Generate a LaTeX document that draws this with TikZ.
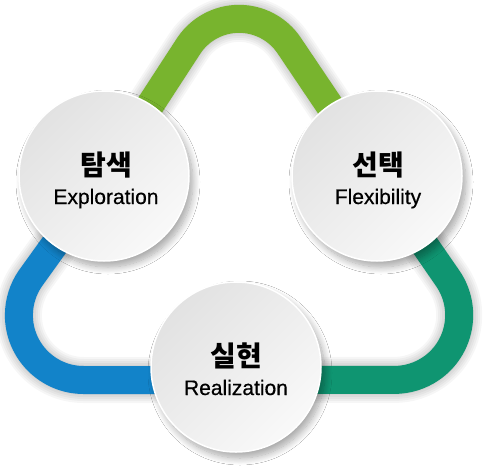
\documentclass[tikz,border=0pt]{standalone}
\usepackage{fontspec}
\setmainfont{Liberation Sans}
\newfontfamily\kofont{Noto Sans CJK KR}
\newfontfamily\enfont{Liberation Sans}[FakeBold=0.5]
\usetikzlibrary{shadows.blur}
\definecolor{bandgreen}{HTML}{78B42E}
\definecolor{bandteal}{HTML}{0F9571}
\definecolor{bandblue}{HTML}{1283C9}
\definecolor{discgray}{HTML}{E2E2E2}
\definecolor{discwhite}{HTML}{F9F9F9}
\tikzset{
	band/.style={line width=28pt, line cap=butt},
	bandshade/.style={line width=#1, color=black, opacity=0.035},
	disc/.style={circle, minimum size=170pt, inner sep=0pt, draw=white, line width=1.5pt,
		top color=discgray, bottom color=discwhite, shading angle=45,
		blur shadow={shadow xshift=4pt, shadow yshift=-6pt, shadow blur radius=7pt, shadow blur steps=12, shadow opacity=35}},
	title/.style={anchor=base, font=\kofont\bfseries\fontsize{28}{30}\selectfont},
	caption/.style={anchor=base, font=\enfont\fontsize{21}{24}\selectfont}
}
% the three arms of the rounded triangle
\def\armtop{(pExplore) -- (tTopL) arc[start angle=-145.6, end angle=-34.4, radius=60.4] -- (pFlex)}
\def\armright{(pFlex) -- (tRightS) arc[start angle=-34.3, end angle=90, radius=64.8] -- (pRealize |- tRightB)}
\def\armleft{(pRealize |- tLeftB) -- (tLeftB) arc[start angle=90, end angle=214.3, radius=64.8] -- (pExplore)}

\begin{document}
\begin{tikzpicture}[x=1pt, y=-1pt]
			%%%%% START %%%%%
			
			\fill[white] (0, 0) rectangle (500, 474);
			\useasboundingbox (0, 0) rectangle (500, 474);
			
			\coordinate (pExplore) at (104, 176);
			\coordinate (pFlex) at (377, 176);
			\coordinate (pRealize) at (236, 367);
			
			\coordinate (tTopL) at (189.2, 45.1);
			\coordinate (tRightS) at (447.9, 278.6);
			\coordinate (tRightB) at (394.3, 380);
			\coordinate (tLeftB) at (83.7, 380);
			
			% shadow of the band
			\begin{scope}[shift={(4, 6)}]
				\foreach \w in {46, 42, 38, 34, 30} {
					\draw[bandshade=\w pt] \armtop;
					\draw[bandshade=\w pt] \armright;
					\draw[bandshade=\w pt] \armleft;
				}
			\end{scope}
			
			\draw[band, bandgreen] \armtop;
			\draw[band, bandteal] \armright;
			\draw[band, bandblue] \armleft;
			
			\node[disc] (explore) at (pExplore) {};
			\node[disc] (flex) at (pFlex) {};
			\node[disc] (realize) at (pRealize) {};
			
			\node[title] (exploreKo) at ([xshift=2pt, yshift=1pt]explore.center) {탐색};
			\node[caption] (exploreEn) at ([xshift=2pt, yshift=-28pt]explore.center) {Exploration};
			\node[title] (flexKo) at ([xshift=1pt, yshift=1pt]flex.center) {선택};
			\node[caption] (flexEn) at ([xshift=1pt, yshift=-28pt]flex.center) {Flexibility};
			\node[title] (realizeKo) at ([yshift=1pt]realize.center) {실현};
			\node[caption] (realizeEn) at ([yshift=-28pt]realize.center) {Realization};
			
			%%%%% END %%%%%
\end{tikzpicture}
\end{document}
